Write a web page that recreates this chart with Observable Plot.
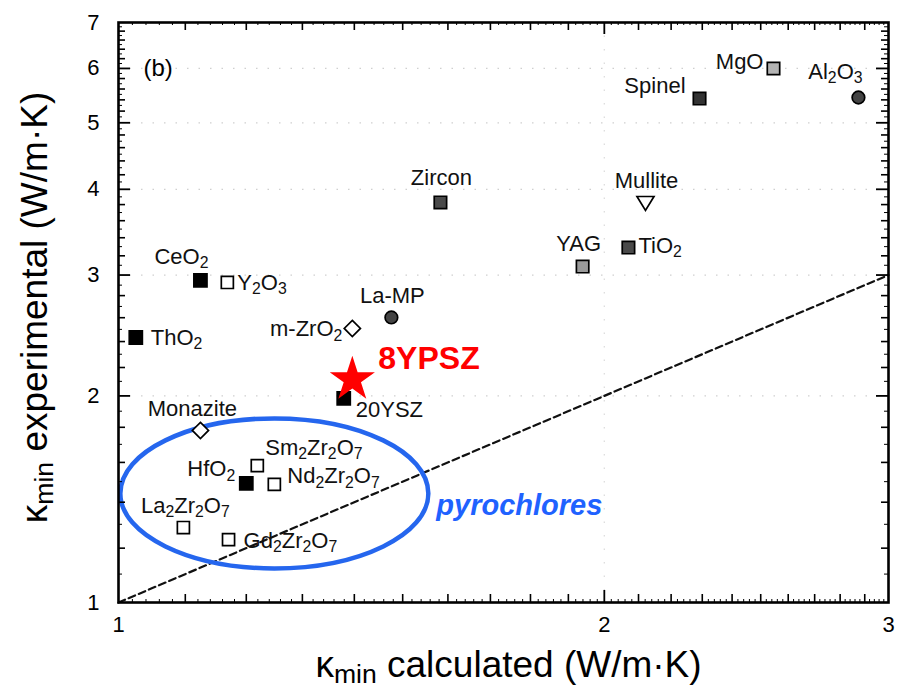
<!DOCTYPE html>
<html>
<head>
<meta charset="utf-8">
<script src="https://cdn.jsdelivr.net/npm/d3@7"></script>
<script src="https://cdn.jsdelivr.net/npm/@observablehq/plot@0.6"></script>
<style>
  html, body { margin: 0; padding: 0; background: #fff; }
  svg { display: block; }
</style>
</head>
<body>
<div id="chart"></div>
<script>
// ---------- DATA ----------
const materials = ["ThO₂","CeO₂","Y₂O₃","m-ZrO₂","La-MP","20YSZ","Monazite","Sm₂Zr₂O₇","HfO₂","Nd₂Zr₂O₇","La₂Zr₂O₇","Gd₂Zr₂O₇","Zircon","YAG","TiO₂","Mullite","Spinel","MgO","Al₂O₃"];
const kMinCalculated   = [1.025,1.124,1.168,1.396,1.476,1.379,1.124,1.219,1.200,1.249,1.097,1.170,1.583,1.939,2.070,2.121,2.291,2.546,2.874];
const kMinExperimental = [2.433,2.946,2.926,2.508,2.602,1.983,1.781,1.583,1.491,1.486,1.286,1.235,3.827,3.087,3.290,3.827,5.424,5.999,5.443];

const highlightName = ["8YPSZ"];
const highlightCalculated = [1.396];
const highlightExperimental = [2.113];

const groupName = ["pyrochlores"];
const groupCenterCalculated = [1.249];
const groupCenterExperimental = [1.442];

const identityLine = [1, 3];           // kappa_exp = kappa_calc
const xTicks = [1, 2, 3];
const yTicks = [1, 2, 3, 4, 5, 6, 7];
const panelLabel = "(b)";
const xTitle = "κₘᵢₙ calculated (W/m·K)";
const yTitle = "κₘᵢₙ experimental (W/m·K)";

// ---------- STYLE / LAYOUT ----------
const W = 897, H = 689;
const M = {top: 22, right: 9, bottom: 87, left: 118};
const plotW = W - M.left - M.right, plotH = H - M.top - M.bottom;
const FONT = "'Liberation Sans', Arial, Helvetica, sans-serif";

const downTriangle = {draw(ctx) { ctx.moveTo(-8.5, -6); ctx.lineTo(8.5, -6); ctx.lineTo(0, 8); ctx.closePath(); }};
const ellipse = {draw(ctx) {
  const rx = 154, ry = 75, k = 0.5523;
  ctx.moveTo(rx, 0);
  ctx.bezierCurveTo(rx, ry*k, rx*k, ry, 0, ry);
  ctx.bezierCurveTo(-rx*k, ry, -rx, ry*k, -rx, 0);
  ctx.bezierCurveTo(-rx, -ry*k, -rx*k, -ry, 0, -ry);
  ctx.bezierCurveTo(rx*k, -ry, rx, -ry*k, rx, 0);
  ctx.closePath();
}};

const kinds = {
  filled:    {symbol: "square",   fill: "#000", r: 7.4},
  open:      {symbol: "square",   fill: "#fff", r: 6.8},
  diamond:   {symbol: "diamond2", fill: "#fff", r: 7.3},
  hatched:   {symbol: "square",   fill: "#4a4a4a", r: 7.0},
  gray:      {symbol: "square",   fill: "#9a9a9a", r: 7.0},
  lightGray: {symbol: "square",   fill: "#b4b4b4", r: 7.0},
  dark:      {symbol: "square",   fill: "#333", r: 7.0},
  circle:    {symbol: "circle",   fill: "#444", r: 6.3},
  triangle:  {symbol: downTriangle, fill: "#fff", r: 7}
};
const kindOf = {
  "ThO₂":"filled","CeO₂":"filled","20YSZ":"filled","HfO₂":"filled",
  "Y₂O₃":"open","Sm₂Zr₂O₇":"open","Nd₂Zr₂O₇":"open","La₂Zr₂O₇":"open","Gd₂Zr₂O₇":"open",
  "m-ZrO₂":"diamond","Monazite":"diamond",
  "Zircon":"hatched","TiO₂":"hatched","YAG":"gray","MgO":"lightGray","Spinel":"dark",
  "La-MP":"circle","Al₂O₃":"circle","Mullite":"triangle"
};
const labelLayout = {
  "ThO₂":     [15, 0, "start"],
  "CeO₂":     [-19, -24, "middle"],
  "Y₂O₃":     [10, 0, "start"],
  "m-ZrO₂":   [-10, 1, "end"],
  "La-MP":    [1, -22, "middle"],
  "20YSZ":    [12, 12, "start"],
  "Monazite": [-8, -22, "middle"],
  "Sm₂Zr₂O₇": [8, -18, "start"],
  "HfO₂":     [-11, -14, "end"],
  "Nd₂Zr₂O₇": [13, -8, "start"],
  "La₂Zr₂O₇": [2, -22, "middle"],
  "Gd₂Zr₂O₇": [15, 1, "start"],
  "Zircon":   [1, -25, "middle"],
  "YAG":      [-4, -23, "middle"],
  "TiO₂":     [10, -2, "start"],
  "Mullite":  [1, -22, "middle"],
  "Spinel":   [-14, -13, "end"],
  "MgO":      [-10, -7, "end"],
  "Al₂O₃":    [-23, -26, "middle"]
};

// ---------- TABLES ----------
const table = materials.map((name, i) => ({name, x: kMinCalculated[i], y: kMinExperimental[i]}));
const highlight = highlightName.map((name, i) => ({name, x: highlightCalculated[i], y: highlightExperimental[i]}));
const groups = groupName.map((name, i) => ({name, x: groupCenterCalculated[i], y: groupCenterExperimental[i]}));
const diag = identityLine.map(v => ({x: v, y: v}));

const xMinor = d3.range(11, 30).filter(v => v !== 20).map(v => v / 10);
const xTiny = d3.range(51, 150).filter(v => v % 5 !== 0).map(v => v / 50);
const yMinor = d3.range(6, 35).filter(v => v % 5 !== 0).map(v => v / 5);
const yTiny = d3.range(11, 70).filter(v => v % 2 !== 0).map(v => v / 10);
const yMajorInner = [2, 3, 4, 5, 6];
const xMajorInner = [2];

function ticksX(values, len, sw) {
  return [
    Plot.tickX(values, {x: d => d, insetTop: plotH - len, stroke: "#000", strokeWidth: sw}),
    Plot.tickX(values, {x: d => d, insetBottom: plotH - len, stroke: "#000", strokeWidth: sw})
  ];
}
function ticksY(values, len, sw) {
  return [
    Plot.tickY(values, {y: d => d, insetRight: plotW - len, stroke: "#000", strokeWidth: sw}),
    Plot.tickY(values, {y: d => d, insetLeft: plotW - len, stroke: "#000", strokeWidth: sw})
  ];
}

const chart = Plot.plot({
  width: W, height: H,
  marginTop: M.top, marginRight: M.right, marginBottom: M.bottom, marginLeft: M.left,
  x: {type: "log", domain: [1, 3]},
  y: {type: "log", domain: [1, 7]},
  style: {fontFamily: FONT, background: "#fff", color: "#000"},
  marks: [
    Plot.gridY(yMajorInner, {stroke: "#888", strokeOpacity: 0.4, strokeDasharray: "1.5,10", strokeWidth: 1.2}),
    Plot.gridX(xMajorInner, {stroke: "#888", strokeOpacity: 0.3, strokeDasharray: "1.5,12", strokeWidth: 1.2}),
    Plot.line(diag, {x: "x", y: "y", stroke: "#111", strokeWidth: 2.2, strokeDasharray: "7,4"}),
    Plot.dot(groups, {x: "x", y: "y", symbol: ellipse, fill: "none", stroke: "#2566ee", strokeWidth: 4.5}),
    Plot.text(groups, {x: "x", y: "y", text: "name", dx: 162, dy: 12, textAnchor: "start",
      fill: "#1f62ff", fontSize: 29, fontWeight: "bold", fontStyle: "italic"}),
    ...Object.entries(kinds).map(([k, s]) =>
      Plot.dot(table, {filter: d => kindOf[d.name] === k, x: "x", y: "y", symbol: s.symbol, r: s.r,
        fill: s.fill, stroke: "#000", strokeWidth: 1.7})),
    ...materials.map(name => {
      const [dx, dy, anchor] = labelLayout[name];
      return Plot.text(table, {filter: d => d.name === name, x: "x", y: "y", text: "name",
        dx, dy, textAnchor: anchor, fontSize: 22, fill: "#111"});
    }),
    Plot.dot(highlight, {x: "x", y: "y", symbol: "star", r: 14.2, fill: "#ff0000", stroke: "none"}),
    Plot.text(highlight, {x: "x", y: "y", text: "name", dx: 26, dy: -21, textAnchor: "start",
      fill: "#ff0000", fontSize: 32, fontWeight: "bold"}),
    Plot.text([panelLabel], {text: d => d, frameAnchor: "top-left", dx: 25, dy: 46, textAnchor: "start",
      lineAnchor: "middle", fontSize: 24}),
    Plot.frame({stroke: "#000", strokeWidth: 2.6}),
    ...ticksX(xTiny, 3, 1),
    ...ticksX(xMinor, 8, 1.6),
    ...ticksX(xMajorInner, 12, 1.8),
    ...ticksY(yTiny, 4, 1),
    ...ticksY(yMinor, 7, 1.6),
    ...ticksY(yMajorInner, 12, 1.8),
    Plot.axisX(xTicks, {tickSize: 0, tickPadding: 14, fontSize: 22, label: null, tickFormat: d => String(d)}),
    Plot.axisY(yTicks, {tickSize: 0, tickPadding: 19, fontSize: 22, label: null, tickFormat: d => String(d)}),
    Plot.text([xTitle], {text: d => d, frameAnchor: "bottom", textAnchor: "middle", dx: 5, dy: 63,
      lineAnchor: "middle", fontSize: 37}),
    Plot.text([yTitle], {text: d => d, frameAnchor: "left", textAnchor: "middle", rotate: -90, dx: -83, dy: -5,
      lineAnchor: "middle", fontSize: 37})
  ]
});

document.getElementById("chart").appendChild(chart);

// Render Unicode subscripts as real lowered, smaller text
const subs = {"₀":"0","₁":"1","₂":"2","₃":"3","₄":"4","₅":"5","₆":"6","₇":"7","₈":"8","₉":"9","ₘ":"m","ᵢ":"i","ₙ":"n"};
chart.querySelectorAll("text").forEach(el => {
  if (el.querySelector("tspan")) return;
  const t = el.textContent;
  if (![...t].some(c => c in subs)) return;
  const fs = parseFloat(getComputedStyle(el).fontSize);
  const shift = (fs > 30 ? 0.14 : 0.22) * fs;
  const runs = [];
  for (const c of t) {
    const isSub = c in subs;
    const ch = isSub ? subs[c] : c;
    if (runs.length && runs[runs.length - 1].sub === isSub) runs[runs.length - 1].s += ch;
    else runs.push({sub: isSub, s: ch});
  }
  el.textContent = "";
  let lowered = false;
  for (const r of runs) {
    const ts = document.createElementNS("http://www.w3.org/2000/svg", "tspan");
    ts.textContent = r.s;
    if (r.sub) {
      ts.setAttribute("font-size", (0.72 * fs).toFixed(1));
      if (!lowered) { ts.setAttribute("dy", shift.toFixed(1)); lowered = true; }
    } else if (lowered) {
      ts.setAttribute("dy", (-shift).toFixed(1)); lowered = false;
    }
    el.appendChild(ts);
  }
});
</script>
</body>
</html>
